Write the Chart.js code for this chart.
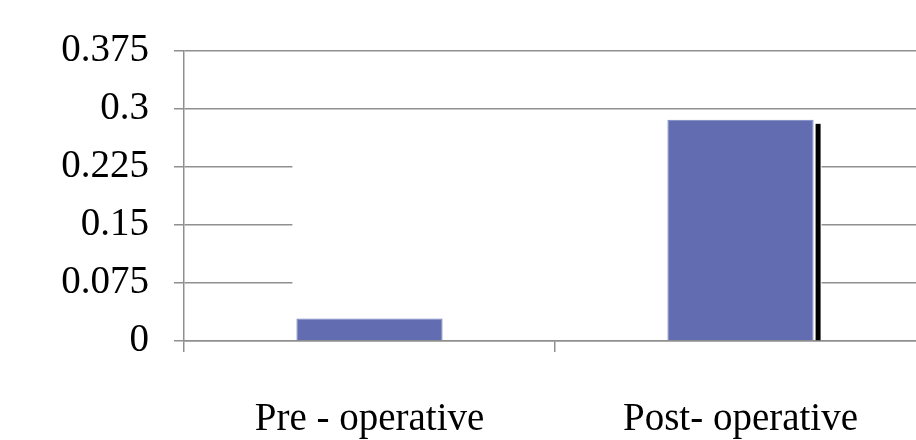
<!DOCTYPE html>
<html>
<head>
<meta charset="utf-8">
<script src="https://cdn.jsdelivr.net/npm/chart.js@4"></script>
<style>
  html, body { margin: 0; padding: 0; background: #fff; overflow: hidden; }
  #wrap { width: 932px; height: 440px; }
</style>
</head>
<body>
<div id="wrap"><canvas id="myChart" width="932" height="440"></canvas></div>
<script>
var categories = ['Pre - operative', 'Post- operative'];
var values = [0.029, 0.286];
var yTicks = [0, 0.075, 0.15, 0.225, 0.3, 0.375];

var barColor = 'rgba(98,108,177,1)';
var gridColor = '#8f8f8f';

// white area behind the bars that hides the middle gridlines, as in the picture
var backWall = {
    id: 'backWall',
    beforeDatasetsDraw: function (chart) {
        var meta = chart.getDatasetMeta(0);
        var first = meta.data[0], last = meta.data[1];
        var ctx = chart.ctx;
        var left = first.x - first.width / 2 - 4;
        var right = last.x + last.width / 2 + 8;
        var top = last.y;
        var bottom = last.base - 1;
        ctx.save();
        ctx.fillStyle = '#ffffff';
        ctx.fillRect(left, top, right - left, bottom - top);
        ctx.restore();
    },
    afterDatasetsDraw: function (chart) {
        // black shadow on the right of the second bar
        var bar = chart.getDatasetMeta(0).data[1];
        var ctx = chart.ctx;
        ctx.save();
        ctx.fillStyle = '#000000';
        ctx.fillRect(bar.x + bar.width / 2 + 2, bar.y + 4, 5, bar.base - bar.y - 4);
        ctx.restore();
    }
};

var ctx = document.getElementById('myChart').getContext('2d');
var myChart = new Chart(ctx, {
    type: 'bar',
    data: {
        labels: categories,
        datasets: [{
            data: values,
            backgroundColor: barColor,
            borderColor: 'rgba(120,130,195,1)',
            borderWidth: 1,
            categoryPercentage: 1,
            barPercentage: 0.394
        }]
    },
    plugins: [backWall],
    options: {
        responsive: false,
        animation: false,
        layout: {
            padding: { left: 0, right: 6, top: 51, bottom: 0 }
        },
        plugins: {
            legend: { display: false },
            tooltip: { enabled: false }
        },
        scales: {
            x: {
                offset: true,
                grid: {
                    offset: true,
                    drawOnChartArea: false,
                    drawTicks: true,
                    tickLength: 11,
                    color: gridColor,
                    lineWidth: 1.5
                },
                border: { color: gridColor, width: 1.5 },
                ticks: {
                    color: '#000',
                    padding: 44,
                    font: { family: 'Liberation Serif', size: 39 },
                    maxRotation: 0
                },
                afterFit: function (scale) { scale.height = 99; }
            },
            y: {
                min: 0,
                max: 0.375,
                afterBuildTicks: function (scale) {
                    scale.ticks = yTicks.map(function (v) { return { value: v }; });
                },
                grid: {
                    color: gridColor,
                    lineWidth: 1.5,
                    tickLength: 10
                },
                border: { color: gridColor, width: 1.5 },
                ticks: {
                    color: '#000',
                    padding: 25,
                    font: { family: 'Liberation Serif', size: 39 },
                    callback: function (v) { return String(+v.toFixed(3)); }
                },
                afterFit: function (scale) {
                    scale.width = 184;
                    scale.paddingTop = 0;
                }
            }
        }
    }
});
</script>
</body>
</html>
